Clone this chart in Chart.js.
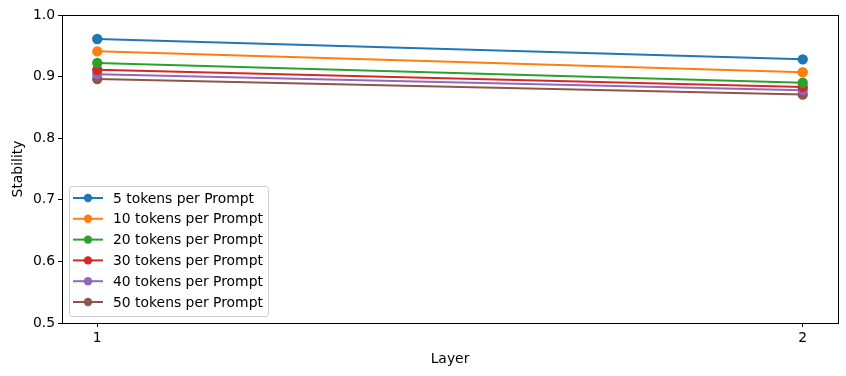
<!DOCTYPE html>
<html>
<head>
<meta charset="utf-8">
<script src="https://cdn.jsdelivr.net/npm/chart.js@4"></script>
<style>
  html, body { margin: 0; padding: 0; background: #fff; }
  #wrap { width: 846px; height: 376px; }
</style>
</head>
<body>
<div id="wrap"><canvas id="chart"></canvas></div>
<script>
// values
var layers = [1, 2]
var labels = ["5 tokens per Prompt", "10 tokens per Prompt", "20 tokens per Prompt",
              "30 tokens per Prompt", "40 tokens per Prompt", "50 tokens per Prompt"]
var tok5  = [0.961, 0.928]
var tok10 = [0.941, 0.907]
var tok20 = [0.922, 0.890]
var tok30 = [0.911, 0.883]
var tok40 = [0.904, 0.878]
var tok50 = [0.896, 0.871]
var yTicks = [0.5, 0.6, 0.7, 0.8, 0.9, 1.0]

var colors = ["#1f77b4", "#ff7f0e", "#2ca02c", "#d62728", "#9467bd", "#8c564b"]
var series = [tok5, tok10, tok20, tok30, tok40, tok50]
var FONT = "DejaVu Sans"

function toPoints(vals){
  return layers.map(function(l, i){ return {x: l, y: vals[i]} })
}

var datasets = series.map(function(vals, i){
  return {
    label: labels[i],
    data: toPoints(vals),
    borderColor: colors[i],
    backgroundColor: colors[i],
    pointBackgroundColor: colors[i],
    pointBorderColor: colors[i],
    borderWidth: 2,
    pointRadius: 4.2,
    pointHoverRadius: 4.2,
    fill: false
  }
})

// top/right spines
var boxPlugin = {
  id: "box",
  afterDraw: function(chart){
    var a = chart.chartArea, ctx = chart.ctx
    ctx.save()
    ctx.strokeStyle = "#000"
    ctx.lineWidth = 1
    ctx.strokeRect(Math.round(a.left) + 0.5, Math.round(a.top) + 0.5,
                   Math.round(a.right - a.left), Math.round(a.bottom - a.top))
    ctx.restore()
  }
}

// matplotlib style legend at lower left inside the axes
var legendPlugin = {
  id: "mplLegend",
  afterDraw: function(chart){
    var a = chart.chartArea, ctx = chart.ctx
    var w = 199, h = 130
    var x0 = a.left + 7, y0 = a.bottom - 7 - h
    ctx.save()
    ctx.fillStyle = "rgba(255,255,255,0.8)"
    ctx.strokeStyle = "#cccccc"
    ctx.lineWidth = 1
    ctx.beginPath()
    ctx.roundRect(x0 + 0.5, y0 + 0.5, w, h, 3)
    ctx.fill()
    ctx.stroke()
    ctx.font = "13.9px '" + FONT + "'"
    ctx.textBaseline = "middle"
    chart.data.datasets.forEach(function(ds, i){
      var yy = y0 + 12 + i * 20.8
      ctx.strokeStyle = ds.borderColor
      ctx.lineWidth = 2
      ctx.beginPath()
      ctx.moveTo(x0 + 4, yy)
      ctx.lineTo(x0 + 34, yy)
      ctx.stroke()
      ctx.fillStyle = ds.borderColor
      ctx.beginPath()
      ctx.arc(x0 + 19, yy, 4.2, 0, Math.PI * 2)
      ctx.fill()
      ctx.fillStyle = "#000"
      ctx.fillText(ds.label, x0 + 44, yy + 1)
    })
    ctx.restore()
  }
}

new Chart(document.getElementById("chart"), {
  type: "line",
  data: { datasets: datasets },
  options: {
    responsive: true,
    maintainAspectRatio: false,
    animation: false,
    layout: { padding: { left: 0, right: 8, top: 15, bottom: 0 } },
    plugins: { legend: { display: false }, tooltip: { enabled: false } },
    scales: {
      x: {
        type: "linear",
        min: 0.95,
        max: 2.05,
        afterBuildTicks: function(scale){ scale.ticks = layers.map(function(v){ return {value: v} }) },
        afterFit: function(scale){ scale.height = 53 },
        grid: { drawOnChartArea: false, drawTicks: true, tickLength: 4, color: "#000" },
        border: { display: true, color: "#000" },
        ticks: { color: "#000", font: { family: FONT, size: 13.9 }, padding: 3,
                 callback: function(v){ return String(v) } },
        title: { display: true, text: "Layer", color: "#000",
                 font: { family: FONT, size: 13.9 }, padding: { top: 2, bottom: 8 } }
      },
      y: {
        min: 0.5,
        max: 1.0,
        afterBuildTicks: function(scale){ scale.ticks = yTicks.map(function(v){ return {value: v} }) },
        afterFit: function(scale){ scale.width = 62 },
        grid: { drawOnChartArea: false, drawTicks: true, tickLength: 4, color: "#000" },
        border: { display: true, color: "#000" },
        ticks: { color: "#000", font: { family: FONT, size: 13.9 }, padding: 3,
                 callback: function(v){ return v.toFixed(1) } },
        title: { display: true, text: "Stability", color: "#000",
                 font: { family: FONT, size: 13.9 }, padding: { top: 10, bottom: 2 } }
      }
    }
  },
  plugins: [boxPlugin, legendPlugin]
})
</script>
</body>
</html>
